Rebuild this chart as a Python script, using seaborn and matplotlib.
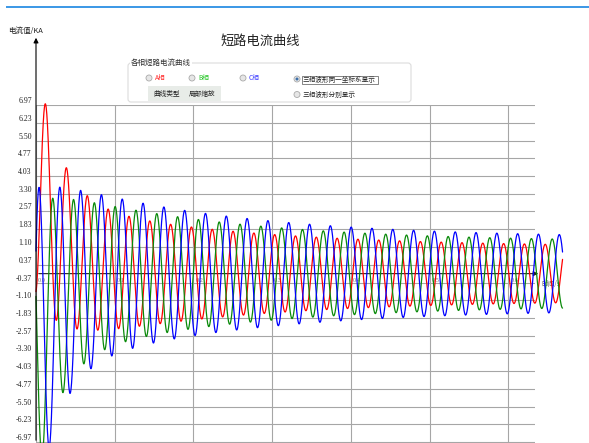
import numpy as np
import pandas as pd
import matplotlib
matplotlib.use('Agg')
import matplotlib.pyplot as plt
import seaborn as sns
from matplotlib.patches import FancyBboxPatch, Rectangle, Circle
from matplotlib.transforms import ScaledTranslation

# ---- chart text ----
title = '短路电流曲线'
y_label = '电流值/KA'
x_label = '时间/s'
panel_title = '各相短路电流曲线'
phase_names = ['A相', 'B相', 'C相']
phase_colors = ['#ff0000', '#0a8a0a', '#0000ff']
phase_label_colors = ['#ff2a2a', '#22c422', '#3a3aff']
button_labels = ['曲线类型', '局部缩放']
view_options = ['三相波形同一坐标系显示', '三相波形分别显示']

y_ticks = [6.97, 6.23, 5.50, 4.77, 4.03, 3.30, 2.57, 1.83, 1.10, 0.37,
           -0.37, -1.10, -1.83, -2.57, -3.30, -4.03, -4.77, -5.50, -6.23, -6.97]
x_ticks = [0.0, 0.1, 0.2, 0.3, 0.4, 0.5, 0.6]
x_tick_labels = ['0.0', '0.1', '0.2', '0.3', '0.4', '0.5', '0.6']

# ---- short-circuit current model parameters ----
frequency_hz = 37.82
duration_s = 0.669
ac_steady_ka = 1.10          # I_inf of phase A
ac_transient_ka = 1.96       # I' - I_inf
ac_subtransient_ka = 1.97    # I'' - I'
t_transient_s = 0.227
t_subtransient_s = 0.029
t_dc_s = 0.029
phase_ac_scale = [1.00, 1.185, 1.34]
phase_angle_deg = [-79.2, 160.2, 37.8]
phase_dc_ka = [4.2, -2.96, -3.2]

# ---- waveforms ----
t = np.linspace(0.0, duration_s, 4000)
envelope = (ac_steady_ka
            + ac_transient_ka * np.exp(-t / t_transient_s)
            + ac_subtransient_ka * np.exp(-t / t_subtransient_s))
frames = []
for name, scale, ang, dc in zip(phase_names, phase_ac_scale, phase_angle_deg, phase_dc_ka):
    current = (scale * envelope * np.sin(2 * np.pi * frequency_hz * t + np.deg2rad(ang))
               + dc * np.exp(-t / t_dc_s))
    frames.append(pd.DataFrame({'time': t, 'current': current, 'phase': name}))
data = pd.concat(frames, ignore_index=True)

sns.set_style('white')
plt.rcParams['font.family'] = ['Noto Sans CJK SC', 'DejaVu Sans']

W, H = 589, 443
fig = plt.figure(figsize=(W / 100, H / 100), dpi=100)
ax = fig.add_axes([36 / W, 0, (535 - 36) / W, (443 - 105) / H])
ax.set_xlim(0, 0.634)
ax.set_ylim(-7.0, 6.97)

sns.lineplot(data=data, x='time', y='current', hue='phase',
             palette=dict(zip(phase_names, phase_colors)),
             estimator=None, sort=False, legend=False, lw=0.9,
             clip_on=False, ax=ax, zorder=3)

ax.set_xticks(x_ticks)
ax.set_yticks(y_ticks)
ax.set_yticklabels([f'{v:.2f}' for v in y_ticks], family='Liberation Serif',
                   fontsize=5.6, color='#222222')
ax.tick_params(axis='x', labelbottom=False, length=0)
ax.tick_params(axis='y', length=0, pad=3)
shift = ScaledTranslation(0, 5 / 100, fig.dpi_scale_trans)
for lab in ax.get_yticklabels():
    lab.set_transform(lab.get_transform() + shift)
ax.grid(True, color='#a6a6a6', lw=0.8)
ax.set_xlabel('')
ax.set_ylabel('')
for sp in ax.spines.values():
    sp.set_visible(False)

# axis arrows
ax.annotate('', xy=(0, (443 - 35) / 338), xycoords='axes fraction', xytext=(0, 0),
            arrowprops=dict(arrowstyle='-|>', color='black', lw=0.8, mutation_scale=7),
            annotation_clip=False, zorder=4)
ax.annotate('', xy=(0.6417, 0), xycoords='data', xytext=(0, 0),
            arrowprops=dict(arrowstyle='-|>', color='#222222', lw=0.8, mutation_scale=7),
            annotation_clip=False, zorder=2)

for xv, lab in zip(x_ticks, x_tick_labels):
    ax.annotate(lab, xy=(xv, 0), xytext=(1.5, -5), textcoords='offset points',
                ha='left', va='center', fontsize=4.6, color='#777777',
                family='Liberation Serif', zorder=2, annotation_clip=False)
ax.annotate(x_label, xy=(0.6417, 0), xytext=(0.5, -7.5), textcoords='offset points',
            ha='left', va='center', fontsize=4.8, color='#666666',
            annotation_clip=False, zorder=2)

# ---- header and control panel (pixel coordinates) ----
ui = fig.add_axes([0, 0, 1, 1], zorder=5)
ui.set_xlim(0, W)
ui.set_ylim(H, 0)
ui.axis('off')
ui.patch.set_alpha(0)

ui.plot([6, W], [7, 7], color='#2b8fe4', lw=1.3, solid_capstyle='butt')
ui.text(260, 41, title, ha='center', va='center', fontsize=9.5, color='#222222')
ui.text(8, 31, y_label, ha='left', va='center', fontsize=5.4, color='#222222')

ui.add_patch(FancyBboxPatch((128, 63), 283, 39, boxstyle='round,pad=0,rounding_size=3',
                            fc='white', ec='#dcdcdc', lw=0.8))
ui.text(131, 62.5, panel_title, ha='left', va='center', fontsize=5.4, color='#333333',
        bbox=dict(fc='white', ec='none', pad=0.6))

def radio(x, y, selected=False):
    ui.add_patch(Circle((x, y), 3.0, fc='#e6e6e6', ec='#a9a9a9', lw=0.6))
    if selected:
        ui.add_patch(Circle((x, y), 1.5, fc='#3d6fa8', ec='none'))

for xr, name, col in zip([149, 192, 243], phase_names, phase_label_colors):
    radio(xr, 78)
    ui.text(xr + 6, 78, name, ha='left', va='center', fontsize=4.8, color=col)

ui.add_patch(Rectangle((147.5, 86), 73.5, 15, fc='#e8ece8', ec='none'))
for xc, lab in zip([167, 202], button_labels):
    ui.text(xc, 94, lab, ha='center', va='center', fontsize=4.8, color='#222222')

radio(297, 79, selected=True)
ui.add_patch(Rectangle((302, 75.5), 75.5, 8, fc='white', ec='#555555', lw=0.5))
ui.text(303, 79.5, view_options[0], ha='left', va='center', fontsize=4.8, color='#222222')
radio(297, 94.5)
ui.text(303, 94.5, view_options[1], ha='left', va='center', fontsize=4.8, color='#222222')

fig.savefig('out.png', dpi=100)
